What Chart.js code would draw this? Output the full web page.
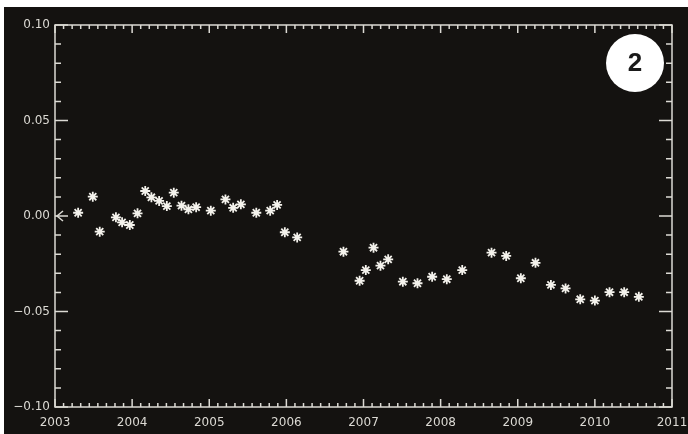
<!DOCTYPE html>
<html>
<head>
<meta charset="utf-8">
<script src="https://cdn.jsdelivr.net/npm/chart.js@4"></script>
<style>
  html, body { margin: 0; padding: 0; background: #fff; }
  #wrap { position: absolute; left: 0; top: 0; width: 688px; height: 434px; }
</style>
</head>
<body>
<div id="wrap"><canvas id="chart" width="688" height="434"></canvas></div>
<script>
// decimal year of each measurement
const years = [
  2003.30, 2003.49, 2003.58, 2003.79, 2003.87, 2003.97, 2004.07, 2004.17,
  2004.25, 2004.35, 2004.45, 2004.54, 2004.64, 2004.73, 2004.83, 2005.02,
  2005.21, 2005.31, 2005.41, 2005.61, 2005.79, 2005.88, 2005.98, 2006.14,
  2006.74, 2006.95, 2007.03, 2007.13, 2007.22, 2007.32, 2007.51, 2007.70,
  2007.89, 2008.08, 2008.28, 2008.66, 2008.85, 2009.04, 2009.23, 2009.43,
  2009.62, 2009.81, 2010.00, 2010.19, 2010.38, 2010.57
];
const values = [
  0.0017, 0.0101, -0.0082, -0.0007, -0.0033, -0.0047, 0.0014, 0.0131,
  0.0098, 0.0079, 0.0052, 0.0122, 0.0054, 0.0035, 0.0046, 0.0028,
  0.0087, 0.0043, 0.0061, 0.0017, 0.0028, 0.0058, -0.0085, -0.0112,
  -0.0187, -0.0339, -0.0283, -0.0166, -0.0260, -0.0227, -0.0344, -0.0352,
  -0.0318, -0.0331, -0.0283, -0.0192, -0.0209, -0.0326, -0.0245, -0.0361,
  -0.0379, -0.0436, -0.0443, -0.0399, -0.0399, -0.0423
];
const xTicks = [2003, 2004, 2005, 2006, 2007, 2008, 2009, 2010, 2011];
const yTicks = [-0.10, -0.05, 0.00, 0.05, 0.10];
const panelLabel = '2';

const FG = '#dcdad4';
const BG = '#141210';

// background panel, box axes with inward ticks, arrow at zero, panel number
const framePlugin = {
  id: 'frame',
  beforeDraw(chart) {
    const ctx = chart.ctx;
    ctx.save();
    ctx.fillStyle = '#fff';
    ctx.fillRect(0, 0, chart.width, chart.height);
    ctx.fillStyle = BG;
    ctx.fillRect(4, 7, chart.width - 4, chart.height - 7);
    ctx.restore();
  },
  afterDatasetsDraw(chart) {
    const { ctx, chartArea: a, scales: { x, y } } = chart;
    ctx.save();
    ctx.strokeStyle = FG;
    ctx.lineWidth = 1.5;
    ctx.beginPath();
    ctx.rect(a.left, a.top, a.right - a.left, a.bottom - a.top);
    ctx.stroke();

    ctx.beginPath();
    // x ticks: majors every year, 9 minor intervals
    for (let yr = xTicks[0]; yr < xTicks[xTicks.length - 1]; yr++) {
      for (let k = 1; k < 9; k++) {
        const px = x.getPixelForValue(yr + k / 9);
        ctx.moveTo(px, a.bottom); ctx.lineTo(px, a.bottom - 4);
        ctx.moveTo(px, a.top); ctx.lineTo(px, a.top + 4);
      }
    }
    xTicks.forEach(v => {
      const px = x.getPixelForValue(v);
      ctx.moveTo(px, a.bottom); ctx.lineTo(px, a.bottom - 8);
      ctx.moveTo(px, a.top); ctx.lineTo(px, a.top + 8);
    });
    // y ticks: majors every 0.05, minors every 0.01
    for (let i = -10; i <= 10; i++) {
      const py = y.getPixelForValue(i / 100);
      const len = (i % 5 === 0) ? 13 : 6;
      ctx.moveTo(a.left, py); ctx.lineTo(a.left + len, py);
      ctx.moveTo(a.right, py); ctx.lineTo(a.right - len, py);
    }
    ctx.stroke();

    // arrow marking the zero level
    const y0 = y.getPixelForValue(0);
    ctx.beginPath();
    ctx.moveTo(a.left + 8, y0 - 5);
    ctx.lineTo(a.left + 2, y0);
    ctx.lineTo(a.left + 8, y0 + 5);
    ctx.stroke();

    // panel number badge
    ctx.fillStyle = '#fff';
    ctx.beginPath();
    ctx.arc(635, 63, 29, 0, Math.PI * 2);
    ctx.fill();
    ctx.fillStyle = '#1a1a1a';
    ctx.font = 'bold 26px "Liberation Sans", Arial, sans-serif';
    ctx.textAlign = 'center';
    ctx.textBaseline = 'middle';
    ctx.fillText(panelLabel, 635, 64);
    ctx.restore();
  }
};

const ctx = document.getElementById('chart').getContext('2d');
new Chart(ctx, {
  type: 'scatter',
  data: {
    datasets: [{
      data: years.map((yr, i) => ({ x: yr, y: values[i] })),
      pointStyle: 'star',
      pointRadius: 5,
      pointBorderWidth: 1.8,
      borderColor: '#f4f2ec',
      backgroundColor: '#f4f2ec'
    }]
  },
  options: {
    responsive: false,
    animation: false,
    events: [],
    layout: { padding: { top: 25, right: 16, left: 0, bottom: 0 } },
    plugins: { legend: { display: false }, tooltip: { enabled: false } },
    scales: {
      x: {
        type: 'linear',
        min: 2003, max: 2011,
        grid: { display: false, drawTicks: false },
        border: { display: false },
        afterBuildTicks: s => { s.ticks = xTicks.map(v => ({ value: v })); },
        afterFit: s => { s.height = 27; s.paddingLeft = 0; s.paddingRight = 0; },
        ticks: {
          color: FG,
          padding: 9,
          maxRotation: 0,
          autoSkip: false,
          font: { family: '"DejaVu Sans", sans-serif', size: 12 },
          callback: v => String(v)
        }
      },
      y: {
        min: -0.1, max: 0.1,
        grid: { display: false, drawTicks: false },
        border: { display: false },
        afterBuildTicks: s => { s.ticks = yTicks.map(v => ({ value: v })); },
        afterFit: s => { s.width = 55; s.paddingTop = 0; s.paddingBottom = 0; },
        ticks: {
          color: FG,
          padding: 5,
          autoSkip: false,
          font: { family: '"DejaVu Sans", sans-serif', size: 12 },
          callback: v => (v < 0 ? '\u2212' : '') + Math.abs(v).toFixed(2)
        }
      }
    }
  },
  plugins: [framePlugin]
});
</script>
</body>
</html>
